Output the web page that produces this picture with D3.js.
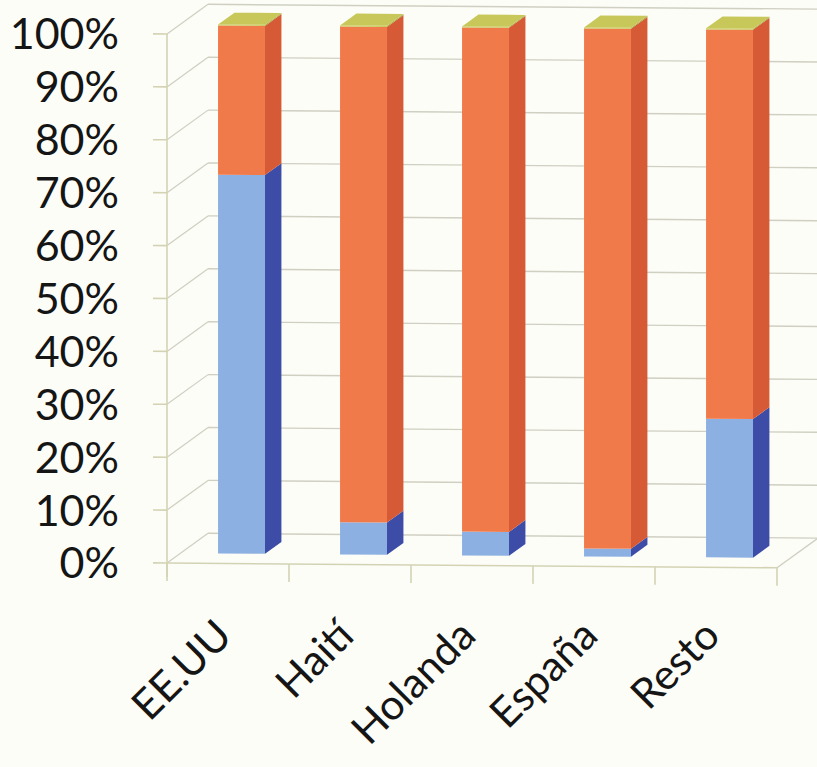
<!DOCTYPE html>
<html>
<head>
<meta charset="utf-8">
<script src="https://cdn.jsdelivr.net/npm/d3@7"></script>
<style>
  html, body { margin: 0; padding: 0; background: #fdfdf8; }
  svg { display: block; }
</style>
</head>
<body>
<svg id="chart" width="817" height="767"></svg>
<script>
// Destinations and their share of each product group (100% stacked)
const categories = ["EE.UU", "Haití", "Holanda", "España", "Resto"];
const seriesBlue   = [71.6, 6.1, 4.5, 1.5, 26.2];
const seriesOrange = [28.2, 93.7, 95.3, 98.3, 73.6];
const seriesGreen  = [0.2, 0.2, 0.2, 0.2, 0.2];
const yTickValues  = [0, 10, 20, 30, 40, 50, 60, 70, 80, 90, 100];
const yTickLabels  = ["0%", "10%", "20%", "30%", "40%", "50%", "60%", "70%", "80%", "90%", "100%"];

const seriesKeys = ["blue", "orange", "green"];
const rows = categories.map((c, i) => ({
  cat: c, blue: seriesBlue[i], orange: seriesOrange[i], green: seriesGreen[i]
}));

const palette = {
  blue:   { front: "#8db0e2", side: "#3d4ca6", top: "#a9c4ec" },
  orange: { front: "#f17a4a", side: "#d65a36", top: "#f39a70" },
  green:  { front: "#c9c95c", side: "#a8a840", top: "#c8c85a" }
};

const svg = d3.select("#chart");
svg.append("rect").attr("width", 817).attr("height", 767).attr("fill", "#fdfdf8");

const x = d3.scaleBand().domain(categories).range([167, 777]).paddingInner(0).paddingOuter(0);
const y = d3.scaleLinear().domain([0, 100]).range([563, 34]);

// 3D depth of the plot box and placement of the bars inside it
const depth = { dx: 41, dy: -30 };
const frontFrac = 0.33, backFrac = 0.73;
const barW = x.bandwidth() * 0.385;

const gridColor = "#cfcfc2";
const axisColor = "#d3d3b4";

// Plot area (with a slight tilt)
const plot = svg.append("g")
  .attr("transform", "translate(167,0) skewY(0.45) translate(-167,0)");

// Back wall gridlines
plot.append("g").selectAll("line.back")
  .data(yTickValues).join("line")
  .attr("x1", 167 + depth.dx).attr("x2", 777 + depth.dx)
  .attr("y1", d => y(d) + depth.dy).attr("y2", d => y(d) + depth.dy)
  .attr("stroke", gridColor).attr("stroke-width", 1.4);

// Side wall diagonals
plot.append("g").selectAll("line.side")
  .data(yTickValues).join("line")
  .attr("x1", 167).attr("x2", 167 + depth.dx)
  .attr("y1", d => y(d)).attr("y2", d => y(d) + depth.dy)
  .attr("stroke", gridColor).attr("stroke-width", 1.2);

// Floor front and right edges
plot.append("line")
  .attr("x1", 167).attr("x2", 777).attr("y1", y(0)).attr("y2", y(0))
  .attr("stroke", axisColor).attr("stroke-width", 1.6);
plot.append("line")
  .attr("x1", 777).attr("x2", 777 + depth.dx).attr("y1", y(0)).attr("y2", y(0) + depth.dy)
  .attr("stroke", gridColor).attr("stroke-width", 1.4);

// Value axis line and ticks
plot.append("line")
  .attr("x1", 167).attr("x2", 167).attr("y1", y(100)).attr("y2", y(0) + 14)
  .attr("stroke", axisColor).attr("stroke-width", 1.6);
plot.append("g").selectAll("line.ytick")
  .data(yTickValues).join("line")
  .attr("x1", 153).attr("x2", 167)
  .attr("y1", d => y(d)).attr("y2", d => y(d))
  .attr("stroke", axisColor).attr("stroke-width", 1.6);

// Category ticks at band boundaries
const boundaries = categories.map(c => x(c)).concat([x(categories[categories.length - 1]) + x.bandwidth()]);
plot.append("g").selectAll("line.xtick")
  .data(boundaries).join("line")
  .attr("x1", d => d).attr("x2", d => d)
  .attr("y1", y(0)).attr("y2", y(0) + 18)
  .attr("stroke", axisColor).attr("stroke-width", 1.6);

// Stacked 3D bars
const stacked = d3.stack().keys(seriesKeys)(rows);
const fdx = depth.dx * frontFrac, fdy = depth.dy * frontFrac;
const bdx = depth.dx * (backFrac - frontFrac), bdy = depth.dy * (backFrac - frontFrac);

const bars = plot.append("g");
categories.forEach((cat, i) => {
  const g = bars.append("g");
  const xl = x(cat) + (x.bandwidth() - barW) / 2 + fdx;
  const xr = xl + barW;
  let topSeg = null;
  stacked.forEach(layer => {
    const seg = layer[i];
    if (seg[1] - seg[0] <= 0) return;
    const yb = y(seg[0]) + fdy, yt = y(seg[1]) + fdy;
    const col = palette[layer.key];
    g.append("rect")
      .attr("x", xl).attr("y", yt)
      .attr("width", barW).attr("height", yb - yt)
      .attr("fill", col.front);
    g.append("path")
      .attr("d", `M${xr},${yb}L${xr},${yt}L${xr + bdx},${yt + bdy}L${xr + bdx},${yb + bdy}Z`)
      .attr("fill", col.side);
    topSeg = { yt, col };
  });
  if (topSeg) {
    const yt = topSeg.yt;
    g.append("path")
      .attr("d", `M${xl},${yt}L${xr},${yt}L${xr + bdx},${yt + bdy}L${xl + bdx},${yt + bdy}Z`)
      .attr("fill", topSeg.col.top);
  }
});

// Value axis labels
const labelFont = "Lato, 'Open Sans', sans-serif";
svg.append("g").selectAll("text.ylab")
  .data(yTickValues).join("text")
  .attr("x", 119)
  .attr("y", d => y(d))
  .attr("dy", "0.36em")
  .attr("text-anchor", "end")
  .attr("font-family", labelFont)
  .attr("font-size", 43)
  .attr("fill", "#151515")
  .text((d, i) => yTickLabels[i]);

// Category labels, rotated
svg.append("g").selectAll("text.xlab")
  .data(categories).join("text")
  .attr("transform", d => `translate(${x(d) + x.bandwidth() / 2 + 6},638) rotate(-45)`)
  .attr("text-anchor", "end")
  .attr("font-family", labelFont)
  .attr("font-size", 42)
  .attr("fill", "#151515")
  .text(d => d);
</script>
</body>
</html>
